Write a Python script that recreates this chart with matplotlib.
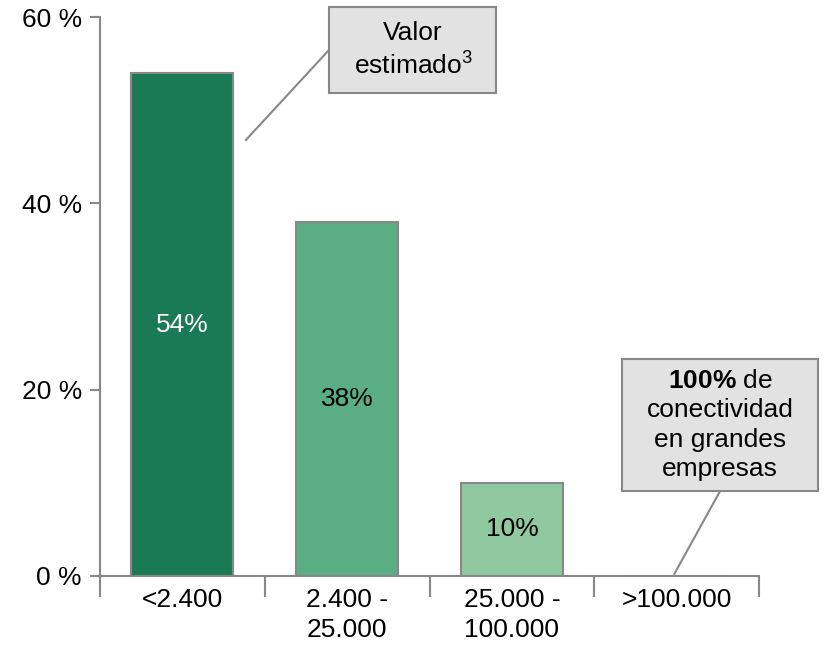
import matplotlib
matplotlib.use("Agg")
import matplotlib.pyplot as plt
from matplotlib.patches import Rectangle

plt.rcParams['font.family'] = ['Liberation Sans', 'DejaVu Sans']
plt.rcParams['mathtext.fontset'] = 'custom'
plt.rcParams['mathtext.rm'] = 'Liberation Sans'
plt.rcParams['mathtext.it'] = 'Liberation Sans'
plt.rcParams['mathtext.bf'] = 'Liberation Sans:bold'

categories = ["<2.400", "2.400 -\n25.000", "25.000 -\n100.000", ">100.000"]
values = [54, 38, 10, 0]
value_labels = ["54%", "38%", "10%", ""]
bar_colors = ["#1a7a55", "#5bae84", "#90c8a0", "#90c8a0"]
label_colors = ["white", "black", "black", "black"]
y_ticks = [0, 20, 40, 60]
y_tick_labels = ["0 %", "20 %", "40 %", "60 %"]

GRAY = "#888888"
FS = 19

fig = plt.figure(figsize=(8.26, 6.61), dpi=100)
ax = fig.add_axes([0.121, 0.1286, 0.798, 0.8454])

x = list(range(len(categories)))
ax.bar(x, values, width=0.62, color=bar_colors, edgecolor=GRAY, linewidth=1.5, zorder=2)

for xi, v, lab, c in zip(x, values, value_labels, label_colors):
    if lab:
        ax.text(xi, v / 2, lab, ha='center', va='center', color=c, fontsize=FS)

ax.set_xlim(-0.5, 3.5)
ax.set_ylim(0, 60)
ax.set_yticks(y_ticks)
ax.set_yticklabels(y_tick_labels, fontsize=FS)
ax.set_xticks(x)
ax.set_xticklabels(categories, fontsize=FS, linespacing=1.29)
ax.set_xticks([-0.5, 0.5, 1.5, 2.5, 3.5], minor=True)
ax.tick_params(axis='x', which='major', length=0, pad=9)
ax.tick_params(axis='x', which='minor', length=15, width=1.5, color=GRAY)
ax.tick_params(axis='y', which='major', length=7, width=1.5, color=GRAY, pad=6)

for side in ['top', 'right']:
    ax.spines[side].set_visible(False)
for side in ['left', 'bottom']:
    ax.spines[side].set_color(GRAY)
    ax.spines[side].set_linewidth(1.5)

# Callout boxes (figure coordinates)
box1 = Rectangle((0.398, 0.859), 0.203, 0.130, transform=fig.transFigure,
                 facecolor="#e2e2e2", edgecolor=GRAY, linewidth=1.5, zorder=5)
fig.add_artist(box1)
fig.text(0.5, 0.924, "Valor\nestimado$^{\\mathrm{3}}$", ha='center', va='center',
         fontsize=FS, linespacing=1.34, zorder=6)

box2 = Rectangle((0.753, 0.257), 0.237, 0.200, transform=fig.transFigure,
                 facecolor="#e2e2e2", edgecolor=GRAY, linewidth=1.5, zorder=5)
fig.add_artist(box2)
fig.text(0.8717, 0.357, "$\\mathbf{100\\%}$ de\nconectividad\nen grandes\nempresas",
         ha='center', va='center', fontsize=FS, linespacing=1.29, zorder=6)

ax.annotate('', xy=(0.385, 46.8), xycoords='data',
            xytext=(0.398, 0.924), textcoords='figure fraction',
            arrowprops=dict(arrowstyle='-', color=GRAY, lw=1.5, shrinkA=0, shrinkB=0))
ax.annotate('', xy=(2.985, 0.2), xycoords='data',
            xytext=(0.8717, 0.257), textcoords='figure fraction',
            arrowprops=dict(arrowstyle='-', color=GRAY, lw=1.5, shrinkA=0, shrinkB=0))

fig.savefig("out.png", dpi=100)
